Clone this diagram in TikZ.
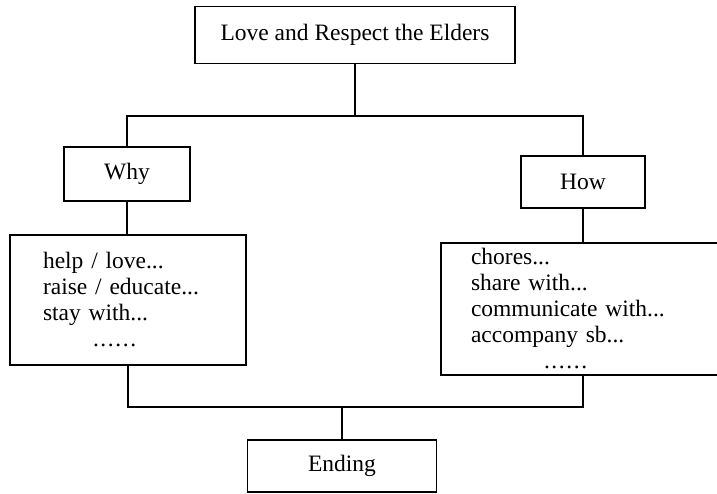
\documentclass[tikz,border=0pt]{standalone}
\usepackage{fontspec}
\setmainfont{Liberation Serif}
\newcommand{\dotrow}{.\kern1.6pt.\kern1.6pt.\kern1.6pt.\kern1.6pt.\kern1.6pt.}
\begin{document}
\begin{tikzpicture}[x=1pt,y=-1pt,
  box/.style={draw, line width=1.3pt, rectangle, inner sep=0pt,
    font=\fontsize{23.5}{26}\selectfont},
  conn/.style={line width=1.3pt}]
\useasboundingbox (0,0) rectangle (717,494);
\clip (0,0) rectangle (717,494);
\node[box, minimum width=320, minimum height=57] (title) at (355,35) {Love and Respect the Elders};
\node[box, minimum width=126, minimum height=54] (why) at (127,174) {Why};
\node[box, minimum width=124, minimum height=52] (how) at (583,182) {How};
\node[box, minimum width=236, minimum height=130, text width=170, inner xsep=33pt, align=left] (reasons) at (128,300)
  {help / love...\\raise / educate...\\stay with...\\\hspace*{50pt}\dotrow};
\node[box, minimum width=310, minimum height=132, text width=250, inner xsep=30pt, align=left] (ways) at (596,309)
  {chores...\\share with...\\communicate with...\\accompany sb...\\\hspace*{73pt}\dotrow};
\node[box, minimum width=189, minimum height=52] (ending) at (342,466) {Ending};
\coordinate (j1) at (355,116);
\coordinate (j2) at (342,407);
\draw[conn] (title.south) -- (j1);
\draw[conn] (why.north) |- (j1) -| (how.north);
\draw[conn] (why.south) -- (why.south |- reasons.north);
\draw[conn] (how.south) -- (how.south |- ways.north);
\draw[conn] (reasons.south) |- (j2) -| (how.south |- ways.south);
\draw[conn] (j2) -- (ending.north);
\end{tikzpicture}
\end{document}
